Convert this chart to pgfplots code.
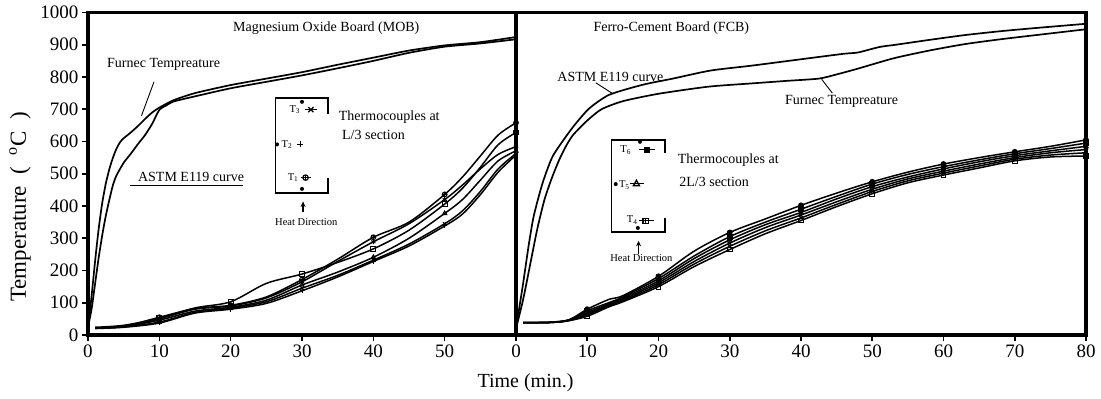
\documentclass[border=0pt]{standalone}
\usepackage{fontspec}
\setmainfont{Liberation Serif}
\usepackage{pgfplots}
\pgfplotsset{compat=1.18}
\usetikzlibrary{plotmarks,arrows.meta}

% furnace and ASTM E119 curves
\pgfplotstableread{
t T
0 25
0.5 120
1 230
1.5 330
2 410
2.5 470
3 515
3.5 550
4 578
4.5 598
5 610
6 628
7 648
8 670
9 690
10 705
12 728
15 750
20 775
25 795
30 815
35 838
40 860
45 882
50 898
55 908
60 924
}\mobfurnace
\pgfplotstableread{
t T
0 25
0.5 80
1 160
1.5 240
2 310
2.5 370
3 420
3.5 465
4 495
5 534
6 562
7 592
8 620
9 655
10 698
11 712
12 724
15 740
20 765
25 785
30 805
35 827
40 850
45 875
50 894
55 904
60 917
}\mobastm
\pgfplotstableread{
t T
0 20
1 110
2 220
3 330
4 420
5 485
6 540
7 585
8 620
10 665
12 700
15 725
20 748
27 770
33 780
38 788
42.5 795
45 808
48 826
53 858
58 882
63 902
68 917
73 930
80 948
}\fcbfurnace
\pgfplotstableread{
t T
0 20
0.5 90
1 160
1.8 281
2.5 370
3.7 469
5.1 552
7 615
8.4 656
10.3 703
13.1 745
17.8 776
22 795
27.3 820
33 835
40 855
46 872
48 876
51 893
53.3 900
58 915
63 930
68 942
73 952
80 965
}\fcbastm

% thermocouples, MOB (L/3 section)
\pgfplotstableread{
t    A   B   C   D   E   F
1    22  24  22  22  21  20
5    27  30  27  26  25  24
10   55  52  50  46  40  37
15   82  84  80  74  70  68
20   92  103 90  86  83  80
25   118 160 115 108 103 98
30   172 189 165 155 145 137
35   235 225 228 195 185 180
40   303 267 289 241 232 228
45   350 325 345 300 282 276
50   436 406 420 377 345 338
52.5 490 455 465 420 385 375
55   555 520 515 480 445 435
57.5 620 590 560 540 515 505
60   658 628 584 571 563 558
}\mobtc

% thermocouples, FCB (2L/3 section)
\pgfplotstableread{
t   A   B   C   D   E   F
1   38  38  38  38  38  38
5   40  40  39  39  39  39
7.5 48  47  46  45  45  45
10  80  75  70  66  62  58
13  110 100 96  93  90  87
15  122 118 114 110 106 103
20  182 175 168 162 156 150
25  260 245 237 228 220 212
30  318 305 295 285 275 265
35  360 350 342 333 323 314
40  402 390 380 372 363 355
45  440 430 422 413 405 398
50  475 468 460 452 445 438
55  505 498 490 484 478 472
60  530 522 515 508 502 496
65  550 543 537 530 524 518
70  568 562 556 550 545 540
75  585 578 571 565 558 552
80  605 595 585 575 565 555
}\fcbtc

\pgfplotsset{
  panel/.style={
    scale only axis, height=322.5pt,
    ymin=0, ymax=1000,
    tick style={black, line width=1.6pt},
    major tick length=6pt, tick align=outside,
    xtick pos=bottom, ytick pos=left,
    ticklabel style={font=\fontsize{19}{19}\selectfont},
    /pgf/number format/assume math mode=true,
    /pgf/number format/1000 sep={},
    clip=false,
  },
  furn/.style={black, line width=1.7pt, smooth, tension=0.4, no marks},
  tc/.style={black, line width=1.5pt, smooth, tension=0.5, mark size=2.4pt,
             mark options={solid, line width=1pt, fill=black}},
}

\tikzset{
  lbl/.style={font=\fontsize{14}{16}\selectfont, inner sep=0pt},
  small/.style={font=\fontsize{10.5}{12}\selectfont, inner sep=0pt},
}

\begin{document}
\begin{tikzpicture}

% ---------------- Magnesium Oxide Board ----------------
\begin{axis}[panel, at={(0pt,0pt)}, anchor=south west, width=428pt,
  xmin=0, xmax=60, xtick={0,10,...,50}, ytick={0,100,...,1000}]
  \addplot[furn] table[x=t,y=T] {\mobfurnace};
  \addplot[furn] table[x=t,y=T] {\mobastm};
  \addplot[tc, mark=oplus,   mark indices={3,5,7,9,11,15}] table[x=t,y=A] {\mobtc};
  \addplot[tc, mark=square,  mark indices={3,5,7,9,11,15}] table[x=t,y=B] {\mobtc};
  \addplot[tc, mark=asterisk,mark indices={3,5,7,9,11,15}] table[x=t,y=C] {\mobtc};
  \addplot[tc, mark=triangle,mark indices={3,5,7,9,11,15}] table[x=t,y=D] {\mobtc};
  \addplot[tc, mark=x,       mark indices={3,5,7,9,11,15}] table[x=t,y=E] {\mobtc};
  \addplot[tc, mark=+,       mark indices={3,5,7,9,11,15}] table[x=t,y=F] {\mobtc};
  \draw[line width=3.8pt, line cap=rect] (rel axis cs:0,0) -- (rel axis cs:1,0)
        -- (rel axis cs:1,1) -- (rel axis cs:0,1) -- cycle;

  \node[lbl] at (axis cs:33.4,952) {Magnesium Oxide Board (MOB)};
  \node[lbl] at (axis cs:10.6,840) {Furnec Tempreature};
  \draw[line width=0.9pt] (axis cs:9.25,785) -- (axis cs:7.5,680);
  \node[lbl] at (axis cs:14.45,490) {ASTM E119 curve};
  \draw[line width=0.9pt] (axis cs:5.85,463) -- (axis cs:21.75,463);

  % section sketch
  \draw[line width=1.5pt] (axis cs:33.65,685) -- (axis cs:33.65,735) -- (axis cs:26.25,735)
        -- (axis cs:26.25,441) -- (axis cs:33.65,441) -- (axis cs:33.65,488);
  \fill (axis cs:30,723) circle (2pt);
  \node[small] at (axis cs:29,699) {T\textsubscript{3}};
  \draw[line width=1pt] (axis cs:30.4,699) -- (axis cs:32.1,699);
  \draw[line width=1.2pt] (axis cs:31.25,699) ++(-2.6pt,-2.6pt) -- ++(5.2pt,5.2pt)
        ++(-5.2pt,0pt) -- ++(5.2pt,-5.2pt);
  \fill (axis cs:26.5,591) circle (2pt);
  \node[small] at (axis cs:27.9,591) {T\textsubscript{2}};
  \draw[line width=1.3pt] (axis cs:29.75,591) ++(-3pt,0pt) -- ++(6pt,0pt)
        (axis cs:29.75,591) ++(0pt,-3pt) -- ++(0pt,6pt);
  \node[small] at (axis cs:28.75,488) {T\textsubscript{1}};
  \draw[line width=1pt] (axis cs:29.8,488) -- (axis cs:31.3,488);
  \draw[line width=1.2pt, fill=white] (axis cs:30.5,488) circle (2.7pt);
  \draw[line width=1pt] (axis cs:30.5,488) ++(-2.7pt,0pt) -- ++(5.4pt,0pt)
        (axis cs:30.5,488) ++(0pt,-2.7pt) -- ++(0pt,5.4pt);
  \fill (axis cs:30,453) circle (2pt);
  \draw[-{Stealth[length=5.5pt,width=5pt]}, line width=1.3pt] (axis cs:30.15,380) -- (axis cs:30.15,414);
  \node[small] at (axis cs:30.6,351) {Heat Direction};
  \node[lbl, anchor=west] at (axis cs:35.15,675) {Thermocouples at};
  \node[lbl, anchor=west] at (axis cs:35.6,620) {L/3 section};
\end{axis}

% ---------------- Ferro-Cement Board ----------------
\begin{axis}[panel, at={(428pt,0pt)}, anchor=south west, width=570pt,
  xmin=0, xmax=80, xtick={0,10,...,80}, ytick=\empty]
  \addplot[furn] table[x=t,y=T] {\fcbastm};
  \addplot[furn] table[x=t,y=T] {\fcbfurnace};
  \addplot[tc, mark=*,        mark indices={4,7,9,11,13,15,17,19}] table[x=t,y=A] {\fcbtc};
  \addplot[tc, mark=square*,  mark indices={4,7,9,11,13,15,17,19}] table[x=t,y=B] {\fcbtc};
  \addplot[tc, mark=triangle*,mark indices={4,7,9,11,13,15,17,19}] table[x=t,y=C] {\fcbtc};
  \addplot[tc, mark=star,     mark indices={4,7,9,11,13,15,17,19}] table[x=t,y=D] {\fcbtc};
  \addplot[tc, mark=x,        mark indices={4,7,9,11,13,15,17,19}] table[x=t,y=E] {\fcbtc};
  \addplot[tc, mark=square,   mark indices={4,7,9,11,13,15,17,19}] table[x=t,y=F] {\fcbtc};
  \draw[line width=3.8pt, line cap=rect] (rel axis cs:0,0) -- (rel axis cs:1,0)
        -- (rel axis cs:1,1) -- (rel axis cs:0,1) -- cycle;

  \node[lbl] at (axis cs:21.8,952) {Ferro-Cement Board (FCB)};
  \node[lbl] at (axis cs:13.25,800) {ASTM E119 curve};
  \draw[line width=0.9pt] (axis cs:11.2,782) -- (axis cs:13.6,748);
  \node[lbl] at (axis cs:45.7,725) {Furnec Tempreature};
  \draw[line width=0.9pt] (axis cs:42.9,793) -- (axis cs:44.4,750);

  % section sketch
  \draw[line width=1.5pt] (axis cs:20.9,564) -- (axis cs:20.9,605) -- (axis cs:13.4,605)
        -- (axis cs:13.4,320) -- (axis cs:20.9,320) -- (axis cs:20.9,363);
  \fill (axis cs:17.4,599) circle (2pt);
  \node[small] at (axis cs:15.4,574) {T\textsubscript{6}};
  \draw[line width=1pt] (axis cs:17.3,574) -- (axis cs:19.5,574);
  \fill (axis cs:18.4,574) ++(-2.7pt,-2.7pt) rectangle ++(5.4pt,5.4pt);
  \fill (axis cs:14.0,468) circle (2pt);
  \node[small] at (axis cs:15.2,465) {T\textsubscript{5}};
  \draw[line width=1pt] (axis cs:16.0,470) -- (axis cs:17.9,470);
  \draw[line width=1.3pt] (axis cs:16.9,470) ++(-3pt,-2.2pt) -- ++(6pt,0pt) -- ++(-3pt,5.4pt) -- cycle;
  \node[small] at (axis cs:16.3,356) {T\textsubscript{4}};
  \draw[line width=1pt] (axis cs:17.3,354) -- (axis cs:19.3,354);
  \draw[line width=1.1pt, fill=white] (axis cs:18.2,354) ++(-2.7pt,-2.7pt) rectangle ++(5.4pt,5.4pt);
  \draw[line width=1pt] (axis cs:18.2,354) ++(-2.7pt,0pt) -- ++(5.4pt,0pt)
        (axis cs:18.2,354) ++(0pt,-2.7pt) -- ++(0pt,5.4pt);
  \fill (axis cs:17.1,332) circle (2pt);
  \draw[-{Stealth[length=5.5pt,width=5pt]}, line width=1.3pt] (axis cs:17.2,252) -- (axis cs:17.2,292);
  \node[small] at (axis cs:17.6,237) {Heat Direction};
  \node[lbl, anchor=west] at (axis cs:22.7,543) {Thermocouples at};
  \node[lbl, anchor=west] at (axis cs:22.9,476) {2L/3 section};
\end{axis}

\node[font=\fontsize{20}{22}\selectfont] at (437.5pt,-48pt) {Time (min.)};
\node[font=\fontsize{23}{25}\selectfont, rotate=90] at (-68pt,128pt)
  {Temperature\enspace(\enspace\textsuperscript{o}C\enspace)};

\pgfresetboundingbox
\path[use as bounding box] (-88pt,-64pt) rectangle (1013pt,335pt);
\end{tikzpicture}
\end{document}
